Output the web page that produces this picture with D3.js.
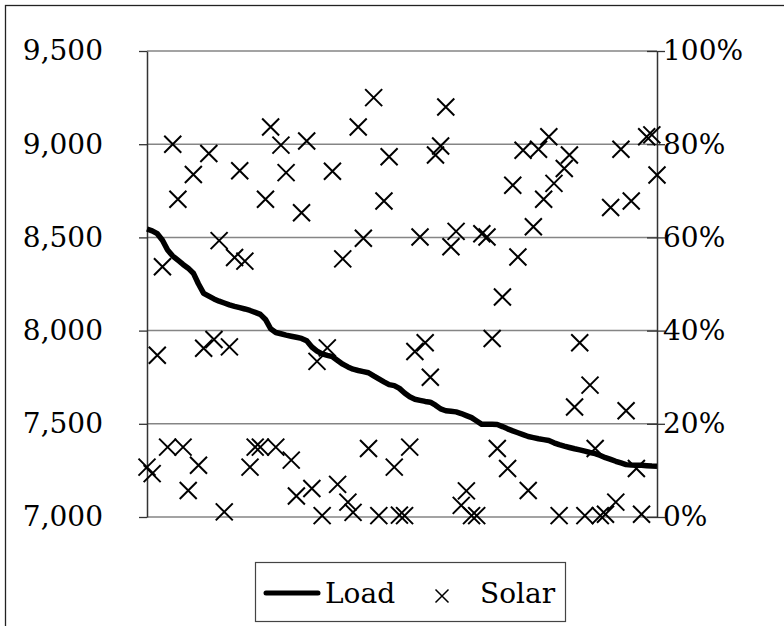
<!DOCTYPE html>
<html>
<head>
<meta charset="utf-8">
<script src="https://cdn.jsdelivr.net/npm/d3@7"></script>
<style>
    body { margin: 0; background: #fff; }
    svg { display: block; }
</style>
</head>
<body>
<svg id="chart" width="784" height="626"></svg>
<script>
// DATA
const load = [
    8545, 8535, 8520, 8485, 8432, 8400, 8378, 8355, 8335, 8308,
    8250, 8200, 8185, 8170, 8158, 8148, 8138, 8130, 8123, 8116,
    8108, 8098, 8087, 8060, 8010, 7990, 7983, 7976, 7970, 7964,
    7958, 7945, 7912, 7890, 7875, 7867, 7860, 7840, 7820, 7805,
    7793, 7786, 7780, 7774, 7757, 7741, 7725, 7710, 7705, 7690,
    7665, 7645, 7632, 7626, 7620, 7616, 7600, 7580, 7570, 7567,
    7564, 7555, 7544, 7533, 7515, 7497, 7497, 7497, 7496, 7485,
    7473, 7462, 7452, 7442, 7432, 7426, 7420, 7415, 7410, 7398,
    7388, 7380, 7373, 7366, 7360, 7353, 7346, 7340, 7330, 7318,
    7309, 7299, 7290, 7281, 7279, 7278, 7277, 7275, 7273, 7272
];

// solar output, share of capacity (%)
const solar = [
    10.7, 9.3, 34.7, 53.7, 15, 80, 68.2, 15, 5.7, 73.5,
    11.1, 36.2, 78, 38.1, 59.3, 1.1, 36.5, 55.7, 74.3, 54.9,
    10.7, 15, 15, 68.2, 83.7, 15, 79.8, 73.9, 12.2, 4.5,
    65.3, 80.7, 6.1, 33.4, 0.3, 36.3, 74.2, 7, 55.4, 3.2,
    1, 83.7, 59.8, 14.7, 90, 0.3, 67.8, 77.3, 10.7, 0.4,
    0.3, 15, 35.5, 60.1, 37.4, 30, 77.7, 79.6, 88, 58,
    61.3, 2.5, 5.6, 0.3, 0.3, 60.8, 60.1, 38.3, 14.7, 47.2,
    10.4, 71.2, 55.8, 78.7, 5.7, 62.3, 78.9, 68.2, 81.6, 71.6,
    0.3, 74.8, 77.7, 23.6, 37.4, 0.3, 28.3, 14.7, 0.3, 0.6,
    66.4, 3.2, 78.9, 22.8, 67.8, 10.4, 0.6, 81.6, 82, 73.4
];

const hours = load.map((d, i) => i + 1);
const loadTicks = [7000, 7500, 8000, 8500, 9000, 9500];
const solarTicks = [0, 20, 40, 60, 80, 100];

const width = 784, height = 626;
const margin = { top: 51, right: 127, bottom: 109, left: 147 };
const font = "DejaVu Serif";
const fontSize = 28;

const svg = d3.select("svg#chart");

// outer frame (runs off the right and bottom edges)
svg.append("rect")
    .attr("x", 5.5).attr("y", 5.5)
    .attr("width", 900).attr("height", 900)
    .attr("fill", "none").attr("stroke", "#222").attr("stroke-width", 1.3);

// SCALES
const xScale = d3.scalePoint()
    .domain(hours)
    .range([margin.left, width - margin.right]);

const yLoad = d3.scaleLinear()
    .domain([7000, 9500])
    .range([height - margin.bottom, margin.top]);

const ySolar = d3.scaleLinear()
    .domain([0, 100])
    .range([height - margin.bottom, margin.top]);

// GRID
svg.append("g")
    .selectAll("line")
    .data(loadTicks)
    .join("line")
    .attr("x1", margin.left).attr("x2", width - margin.right)
    .attr("y1", d => yLoad(d)).attr("y2", d => yLoad(d))
    .attr("stroke", "#858585").attr("stroke-width", 1.5);

// AXIS
const yAxisLeft = g => g.attr("transform", `translate(${margin.left},0)`)
    .call(d3.axisLeft(yLoad).tickValues(loadTicks).tickFormat(d3.format(","))
        .tickSizeInner(8).tickSizeOuter(0).tickPadding(36));

const yAxisRight = g => g.attr("transform", `translate(${width - margin.right},0)`)
    .call(d3.axisRight(ySolar).tickValues(solarTicks).tickFormat(d => d + "%")
        .tickSizeInner(8).tickSizeOuter(0).tickPadding(-2));

const left = svg.append("g").call(yAxisLeft);
const right = svg.append("g").call(yAxisRight);

[left, right].forEach(g => {
    g.attr("font-family", null).attr("font-size", fontSize);
    g.select(".domain").attr("stroke", "#333").attr("stroke-width", 1.5);
    g.selectAll(".tick line").attr("stroke", "#333").attr("stroke-width", 1.3);
    g.selectAll(".tick text").attr("fill", "#000").attr("font-family", font);
});

// right axis ticks cross the axis
right.selectAll(".tick line").attr("x1", -10);

// LOAD LINE
const line = d3.line()
    .x((d, i) => xScale(hours[i]))
    .y(d => yLoad(d));

svg.append("path")
    .datum(load)
    .attr("d", line)
    .attr("fill", "none")
    .attr("stroke", "#000")
    .attr("stroke-width", 5.5)
    .attr("stroke-linejoin", "round");

// SOLAR MARKERS
const cross = s => `M${-s},${-s}L${s},${s}M${-s},${s}L${s},${-s}`;

svg.append("g")
    .selectAll("path")
    .data(solar)
    .join("path")
    .attr("transform", (d, i) => `translate(${xScale(hours[i])},${ySolar(d)})`)
    .attr("d", cross(8.5))
    .attr("stroke", "#000")
    .attr("stroke-width", 2)
    .attr("fill", "none");

// LEGEND
const legend = svg.append("g").attr("font-size", fontSize);

legend.append("rect")
    .attr("x", 255.5).attr("y", 562.5)
    .attr("width", 310).attr("height", 59)
    .attr("fill", "#fff").attr("stroke", "#444").attr("stroke-width", 1.2);

legend.append("line")
    .attr("x1", 266).attr("x2", 318).attr("y1", 593).attr("y2", 593)
    .attr("stroke", "#000").attr("stroke-width", 5).attr("stroke-linecap", "round");

legend.append("text").attr("x", 325).attr("y", 603).attr("font-family", font).text("Load");

legend.append("path")
    .attr("transform", "translate(442,596)")
    .attr("d", cross(6.5))
    .attr("stroke", "#000").attr("stroke-width", 1.5);

legend.append("text").attr("x", 480).attr("y", 603).attr("font-family", font).text("Solar");
</script>
</body>
</html>
